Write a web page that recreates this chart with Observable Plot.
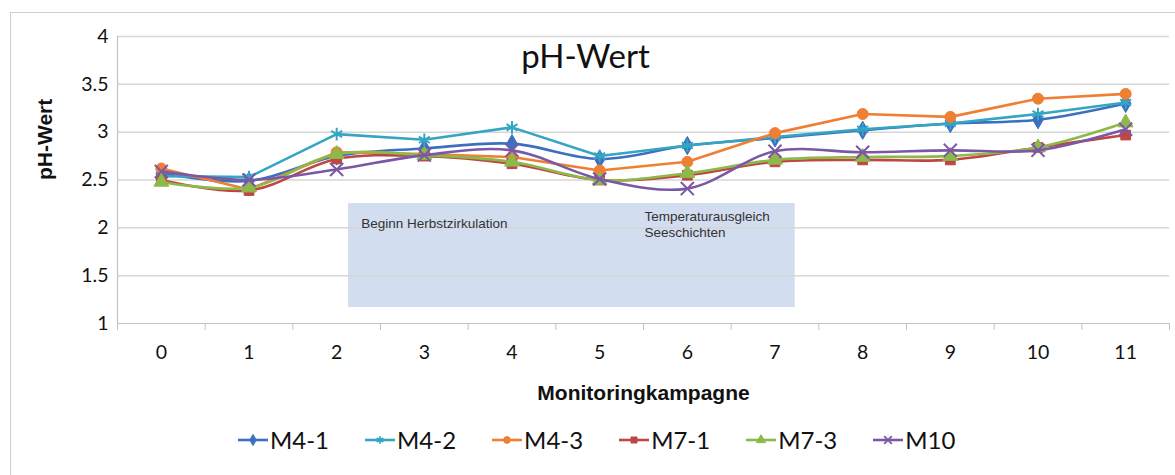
<!DOCTYPE html>
<html><head><meta charset="utf-8">
<script src="https://cdn.jsdelivr.net/npm/d3@7"></script>
<script src="https://cdn.jsdelivr.net/npm/@observablehq/plot@0.6"></script>
<style>
body{margin:0;background:#fff;width:1175px;height:475px;overflow:hidden;position:relative;font-family:Lato,sans-serif}
#frame{position:absolute;left:10px;top:12px;width:1180px;height:470px;border:1px solid #cfcfcf;box-sizing:border-box}
#chart{position:absolute;left:0;top:0}
#legend{position:absolute;left:237px;top:425px;display:flex;gap:35px;align-items:center}
.item{display:flex;align-items:center;font-size:24px;color:#111}
.item svg{margin-right:1px}
</style></head>
<body>
<div id="frame"></div>
<div id="chart"></div>
<div id="legend"></div>
<script>
const categories = [0,1,2,3,4,5,6,7,8,9,10,11];
const boundaries = [-0.5,0.5,1.5,2.5,3.5,4.5,5.5,6.5,7.5,8.5,9.5,10.5,11.5];
const yTicks = [1,1.5,2,2.5,3,3.5,4];
const seriesNames = ["M4-1","M4-2","M4-3","M7-1","M7-3","M10"];
const M4_1 = [2.57,2.49,2.75,2.83,2.88,2.72,2.86,2.94,3.02,3.09,3.13,3.30];
const M4_2 = [2.54,2.53,2.98,2.92,3.05,2.75,2.86,2.95,3.03,3.09,3.19,3.31];
const M4_3 = [2.62,2.40,2.79,2.77,2.74,2.60,2.69,2.99,3.19,3.16,3.35,3.40];
const M7_1 = [2.50,2.39,2.72,2.75,2.67,2.50,2.55,2.69,2.71,2.71,2.84,2.97];
const M7_3 = [2.48,2.42,2.77,2.76,2.69,2.50,2.57,2.71,2.74,2.75,2.84,3.10];
const M10  = [2.59,2.50,2.61,2.76,2.81,2.51,2.41,2.80,2.79,2.81,2.81,3.03];
const seriesValues = [M4_1,M4_2,M4_3,M7_1,M7_3,M10];
const seriesColors = ["#3d6fc0","#35a6c2","#ef7f33","#bf4643","#8db94a","#7b58a6"];
const seriesSymbols = ["diamond","asterisk","circle","square","triangle","times"];
const seriesSmooth = [true,false,false,true,true,true];
// annotation box and texts
const boxX = [2.135,7.23], boxY = [1.167,2.254];
const noteTexts = ["Beginn Herbstzirkulation","Temperaturausgleich\nSeeschichten"];
const noteX = [2.28,5.51], noteY = [2.12,2.19];
const title = "pH-Wert", xTitle = "Monitoringkampagne", yTitle = "pH-Wert";

const marks = [];
marks.push(Plot.rect([0],{x1:()=>boxX[0],x2:()=>boxX[1],y1:()=>boxY[0],y2:()=>boxY[1],fill:"#d2ddef"}));
marks.push(Plot.ruleY(yTicks.slice(1),{stroke:"#d6d6d6",strokeWidth:1.5}));
marks.push(Plot.ruleY([1],{stroke:"#c4c4c4",strokeWidth:1.2}));
marks.push(Plot.ruleX([-0.5],{stroke:"#c4c4c4",strokeWidth:1.2}));
marks.push(Plot.axisX(boundaries,{tickSize:7,tickFormat:()=>"",stroke:"#c4c4c4",label:null}));
marks.push(Plot.axisX(categories,{tickSize:0,tickPadding:22,fontSize:19.5,fill:"#111",tickFormat:d=>String(d),label:null}));
marks.push(Plot.axisY(yTicks,{tickSize:0,tickPadding:9,fontSize:19.5,fill:"#111",tickFormat:d=>String(d),label:null}));
marks.push(Plot.text(noteTexts,{x:(d,i)=>noteX[i],y:(d,i)=>noteY[i],text:d=>d,textAnchor:"start",lineAnchor:"top",fontSize:13.5,fontFamily:"Liberation Sans, Arial, sans-serif",fill:"#333",lineHeight:1.2}));
seriesNames.forEach((name,si)=>{
  const rows = categories.map((c,i)=>({k:c,v:seriesValues[si][i]}));
  const col = seriesColors[si];
  marks.push(Plot.line(rows,{x:"k",y:"v",stroke:col,strokeWidth:2.6,curve:seriesSmooth[si]?"catmull-rom":"linear"}));
  const stroked = seriesSymbols[si]==="asterisk"||seriesSymbols[si]==="times";
  marks.push(Plot.dot(rows,{x:"k",y:"v",symbol:()=>seriesSymbols[si],r:stroked?6:5.5,
    fill:stroked?"none":col,stroke:col,strokeWidth:stroked?2:1}));
});
marks.push(Plot.text([title],{frameAnchor:"top",dx:-58,dy:8,fontSize:33,fill:"#111",fontFamily:"Lato, sans-serif"}));
marks.push(Plot.text([yTitle],{frameAnchor:"left",rotate:-90,dx:-72,fontSize:21,fontWeight:"bold",fill:"#111",fontFamily:"Liberation Sans, Arial, sans-serif"}));
marks.push(Plot.text([xTitle],{frameAnchor:"bottom",dy:76,fontSize:21,fontWeight:"bold",fill:"#111",fontFamily:"Liberation Sans, Arial, sans-serif"}));

const chart = Plot.plot({
  width:1175,height:420,
  marginLeft:117,marginRight:6,marginTop:36,marginBottom:97,
  style:{fontFamily:"Lato, sans-serif",background:"transparent",overflow:"visible"},
  x:{type:"linear",domain:[-0.5,11.5],axis:null},
  y:{domain:[1,4],axis:null},
  symbol:{type:"identity"},
  marks
});
document.getElementById("chart").appendChild(chart);

const legend = document.getElementById("legend");
const symMap = {diamond:d3.symbolDiamond,asterisk:d3.symbolAsterisk,circle:d3.symbolCircle,square:d3.symbolSquare,triangle:d3.symbolTriangle,times:d3.symbolTimes};
seriesNames.forEach((name,si)=>{
  const item = document.createElement("div"); item.className="item";
  const col = seriesColors[si];
  const stroked = seriesSymbols[si]==="asterisk"||seriesSymbols[si]==="times";
  const path = d3.symbol().type(symMap[seriesSymbols[si]]).size(stroked?40:36)();
  item.innerHTML = `<svg width="32" height="24"><line x1="1" x2="31" y1="12" y2="12" stroke="${col}" stroke-width="2.6"/>`+
    `<path transform="translate(16,12)" d="${path}" fill="${stroked?"none":col}" stroke="${col}" stroke-width="${stroked?1.8:1}"/></svg><span>${name}</span>`;
  legend.appendChild(item);
});
</script>
</body></html>
